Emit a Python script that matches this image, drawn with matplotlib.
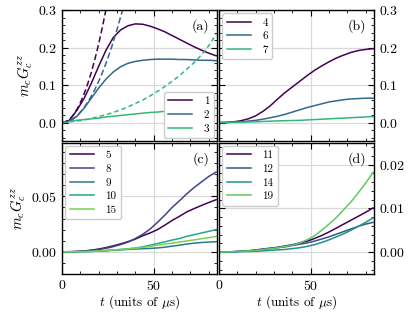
import numpy as np
import matplotlib
matplotlib.use("Agg")
import matplotlib.pyplot as plt
from matplotlib.ticker import AutoMinorLocator, MultipleLocator

plt.rcParams['font.family'] = ['cmr10', 'DejaVu Serif']
plt.rcParams['mathtext.fontset'] = 'cm'
plt.rcParams['axes.formatter.use_mathtext'] = True
plt.rcParams['axes.unicode_minus'] = False

# common time grid (units of µs)
t = np.arange(0, 85, 4)  # 0..84

# ---- panel (a)
a_labels = ["1", "2", "3"]
a_1 = [0, 0.006, 0.032, 0.064, 0.105, 0.150, 0.193, 0.227, 0.247, 0.258, 0.263, 0.262,
       0.257, 0.250, 0.242, 0.232, 0.222, 0.212, 0.202, 0.193, 0.185, 0.178]
a_2 = [0, 0.003, 0.016, 0.038, 0.065, 0.092, 0.116, 0.135, 0.149, 0.158, 0.163, 0.166,
       0.168, 0.169, 0.169, 0.169, 0.168, 0.168, 0.167, 0.166, 0.166, 0.165]
a_3 = [0, 0.003, 0.006, 0.008, 0.010, 0.012, 0.015, 0.017, 0.019, 0.021, 0.023, 0.025,
       0.027, 0.028, 0.030, 0.031, 0.033, 0.034, 0.035, 0.036, 0.038, 0.039]
# short-time (dashed) curves
td1 = [0, 2, 4, 6, 8, 10, 12, 14, 16, 18, 20, 22, 24, 26]
a_1d = [0, 0.002, 0.008, 0.019, 0.034, 0.053, 0.076, 0.103, 0.134, 0.170, 0.210, 0.254, 0.302, 0.355]
td2 = [0, 3, 6, 9, 12, 15, 18, 21, 24, 27, 30, 33, 36]
a_2d = [0, 0.002, 0.010, 0.022, 0.040, 0.062, 0.089, 0.121, 0.158, 0.200, 0.248, 0.300, 0.356]
a_3d = [0, 0.002, 0.004, 0.007, 0.011, 0.016, 0.021, 0.027, 0.034, 0.042, 0.051, 0.060,
        0.071, 0.083, 0.096, 0.110, 0.125, 0.142, 0.160, 0.180, 0.205, 0.235]

# ---- panel (b)
b_labels = ["4", "6", "7"]
b_4 = [0, 0.0005, 0.002, 0.005, 0.010, 0.018, 0.030, 0.045, 0.063, 0.080, 0.095, 0.110,
       0.125, 0.139, 0.151, 0.162, 0.172, 0.180, 0.187, 0.192, 0.195, 0.197]
b_6 = [0, 0.0002, 0.001, 0.002, 0.004, 0.006, 0.009, 0.013, 0.017, 0.022, 0.028, 0.034,
       0.040, 0.045, 0.050, 0.055, 0.058, 0.061, 0.063, 0.064, 0.065, 0.065]
b_7 = [0, 0.0002, 0.0005, 0.001, 0.0015, 0.002, 0.003, 0.0037, 0.0045, 0.005, 0.0055, 0.006,
       0.007, 0.008, 0.009, 0.010, 0.011, 0.012, 0.013, 0.014, 0.015, 0.016]

# ---- panel (c)
c_labels = ["5", "8", "9", "10", "15"]
c_5 = [0, 0.0001, 0.0003, 0.0008, 0.0015, 0.0025, 0.0038, 0.0054, 0.0072, 0.0092, 0.0115, 0.0145,
       0.017, 0.020, 0.024, 0.0283, 0.032, 0.036, 0.039, 0.0418, 0.0445, 0.047]
c_8 = [0, 0.0001, 0.0003, 0.0007, 0.0013, 0.0021, 0.0032, 0.0047, 0.0066, 0.0088, 0.012, 0.0158,
       0.0205, 0.0265, 0.033, 0.040, 0.046, 0.0523, 0.058, 0.063, 0.068, 0.072]
c_9 = [0, 0, 0.0001, 0.0002, 0.0004, 0.0007, 0.001, 0.0014, 0.0018, 0.0022, 0.0025, 0.0028,
       0.0031, 0.0035, 0.0042, 0.0051, 0.006, 0.007, 0.0078, 0.0084, 0.0088, 0.0091]
c_10 = [0, 0, 0.0001, 0.0002, 0.0004, 0.0007, 0.0011, 0.0016, 0.0021, 0.0027, 0.0034, 0.0045,
        0.006, 0.0075, 0.009, 0.0106, 0.012, 0.014, 0.0155, 0.017, 0.0185, 0.020]
c_15 = [0, 0, 0.0001, 0.0002, 0.0004, 0.0008, 0.0012, 0.0017, 0.0022, 0.0027, 0.0032, 0.004,
        0.005, 0.006, 0.007, 0.0078, 0.0088, 0.0098, 0.0108, 0.0118, 0.0128, 0.0138]

# ---- panel (d)
d_labels = ["11", "12", "14", "19"]
d_11 = [0, 0.00005, 0.0001, 0.0002, 0.0003, 0.0005, 0.0007, 0.0009, 0.0011, 0.0014, 0.0017, 0.0021,
        0.0025, 0.0031, 0.0038, 0.0046, 0.0055, 0.0064, 0.0073, 0.0082, 0.0091, 0.0101]
d_12 = [0, 0.00005, 0.0001, 0.0002, 0.0003, 0.0004, 0.0006, 0.0008, 0.001, 0.0012, 0.0015, 0.0018,
        0.0021, 0.0025, 0.003, 0.0035, 0.0041, 0.0047, 0.0053, 0.0059, 0.0064, 0.0068]
d_14 = [0, 0.00002, 0.00005, 0.0001, 0.00015, 0.0002, 0.0003, 0.0004, 0.0005, 0.0006, 0.0008, 0.001,
        0.0013, 0.0017, 0.0022, 0.0028, 0.0035, 0.0042, 0.005, 0.0059, 0.0068, 0.0078]
d_19 = [0, 0.00005, 0.0001, 0.0002, 0.0003, 0.0004, 0.0006, 0.0008, 0.001, 0.0013, 0.0016, 0.0021,
        0.0028, 0.0037, 0.005, 0.0064, 0.0079, 0.0097, 0.0115, 0.0136, 0.0158, 0.0182]


def colors(n):
    return plt.cm.viridis(np.linspace(0, 1, n + 1)[:-1])


fig = plt.figure(figsize=(4.15, 3.12), dpi=100)
gs = fig.add_gridspec(2, 2, left=62 / 415, right=374 / 415, top=1 - 10 / 312,
                      bottom=1 - 274 / 312, wspace=0.013, hspace=0.01)
axa = fig.add_subplot(gs[0, 0])
axb = fig.add_subplot(gs[0, 1])
axc = fig.add_subplot(gs[1, 0])
axd = fig.add_subplot(gs[1, 1])

lw = 1.1
# (a)
ca = colors(3)
for y, lab, c in zip([a_1, a_2, a_3], a_labels, ca):
    axa.plot(t, y, color=c, lw=lw, label=lab)
axa.plot(td1, a_1d, color=ca[0], lw=lw, ls='--', dashes=(4, 2))
axa.plot(td2, a_2d, color=ca[1], lw=lw, ls='--', dashes=(4, 2))
axa.plot(t, a_3d, color=ca[2], lw=lw, ls='--', dashes=(3, 2))
# (b)
for y, lab, c in zip([b_4, b_6, b_7], b_labels, colors(3)):
    axb.plot(t, y, color=c, lw=lw, label=lab)
# (c)
for y, lab, c in zip([c_5, c_8, c_9, c_10, c_15], c_labels, colors(5)):
    axc.plot(t, y, color=c, lw=lw, label=lab)
# (d)
for y, lab, c in zip([d_11, d_12, d_14, d_19], d_labels, colors(4)):
    axd.plot(t, y, color=c, lw=lw, label=lab)

for ax in [axa, axb, axc, axd]:
    ax.set_xlim(0, 84.5)
    ax.xaxis.set_major_locator(MultipleLocator(50))
    ax.xaxis.set_minor_locator(MultipleLocator(10))
    ax.yaxis.set_minor_locator(AutoMinorLocator(5))
    ax.grid(True, which='major', color='0.85', lw=0.9)
    ax.set_axisbelow(True)
    ax.tick_params(which='both', direction='in', top=True, right=True, labelsize=10)
    ax.tick_params(which='major', length=4, width=0.8)
    ax.tick_params(which='minor', length=2.2, width=0.6)
    for s in ax.spines.values():
        s.set_linewidth(1.0)

for ax in [axa, axb]:
    ax.set_ylim(-0.05, 0.3)
    ax.yaxis.set_major_locator(MultipleLocator(0.1))
    ax.tick_params(labelbottom=False)
axc.set_ylim(-0.02, 0.0985)
axc.yaxis.set_major_locator(MultipleLocator(0.05))
axd.set_ylim(-0.005, 0.025)
axd.yaxis.set_major_locator(MultipleLocator(0.01))
for ax in [axb, axd]:
    ax.tick_params(labelleft=False, labelright=True)

for ax in [axa, axc]:
    ax.set_ylabel(r"$m_c G_c^{zz}$", fontsize=10.5, labelpad=2)
for ax in [axc, axd]:
    ax.set_xlabel(r"$t$ (units of $\mu$s)", fontsize=9.5, labelpad=0)

for ax, s in zip([axa, axb, axc, axd], ["(a)", "(b)", "(c)", "(d)"]):
    ax.text(0.95, 0.93, s, transform=ax.transAxes, ha='right', va='top', fontsize=10)

leg_kw = dict(fontsize=8, handlelength=2.2, framealpha=1, edgecolor='0.8',
              borderpad=0.4, labelspacing=0.35, handletextpad=1.0, borderaxespad=0.3)
axa.legend(loc='lower right', **leg_kw)
axb.legend(loc='upper left', **leg_kw)
axc.legend(loc='upper left', **leg_kw)
axd.legend(loc='upper left', **leg_kw)

fig.savefig("out.png", dpi=100)
